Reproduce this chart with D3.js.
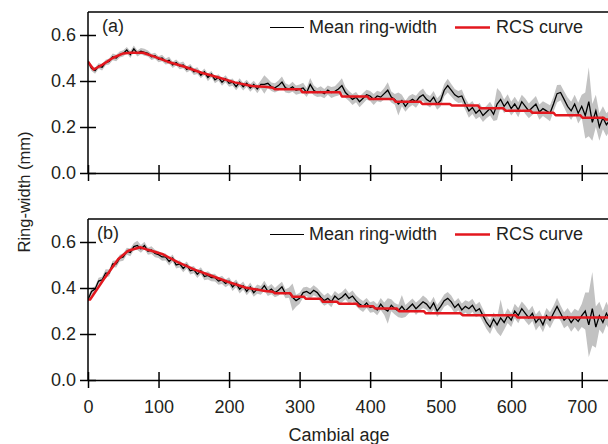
<!DOCTYPE html>
<html>
<head>
<meta charset="utf-8">
<script src="https://cdn.jsdelivr.net/npm/d3@7"></script>
<style>
  html, body { margin: 0; padding: 0; background: #fff; }
  svg { display: block; }
  text { font-family: "Liberation Sans", Arial, sans-serif; fill: #231f20; }
</style>
</head>
<body>
<svg id="chart" width="608" height="444"></svg>
<script>
// ---------------- DATA ----------------
const ageStep = 5; // one value every 5 years of cambial age, starting at 0
const xTicks = [0, 100, 200, 300, 400, 500, 600, 700];
const yTicks = [0.0, 0.2, 0.4, 0.6];
const legendLabels = ["Mean ring-width", "RCS curve"];
const panelLabels = ["(a)", "(b)"];

// Panel (a) mean ring-width (mm)
const meanA = [
  0.485,0.455,0.445,0.465,0.46,0.48,0.485,0.505,0.50,0.515,
  0.52,0.535,0.515,0.54,0.52,0.53,0.525,0.52,0.505,0.51,
  0.495,0.50,0.485,0.49,0.47,0.48,0.465,0.47,0.45,0.46,
  0.44,0.445,0.425,0.44,0.415,0.43,0.405,0.415,0.395,0.41,
  0.39,0.395,0.375,0.395,0.375,0.39,0.37,0.385,0.365,0.385,
  0.385,0.39,0.375,0.37,0.38,0.395,0.37,0.365,0.375,0.36,
  0.365,0.37,0.35,0.385,0.36,0.35,0.355,0.345,0.36,0.35,
  0.355,0.365,0.38,0.35,0.335,0.32,0.33,0.31,0.325,0.34,
  0.335,0.32,0.335,0.33,0.345,0.36,0.33,0.32,0.30,0.315,
  0.29,0.31,0.32,0.31,0.33,0.34,0.32,0.31,0.33,0.30,
  0.315,0.36,0.38,0.36,0.34,0.33,0.335,0.30,0.27,0.285,
  0.26,0.275,0.25,0.265,0.28,0.255,0.30,0.32,0.29,0.31,
  0.28,0.30,0.275,0.31,0.29,0.27,0.285,0.30,0.265,0.28,
  0.27,0.26,0.30,0.345,0.35,0.32,0.29,0.27,0.30,0.26,
  0.29,0.25,0.31,0.22,0.27,0.20,0.24,0.21,0.23
];
// Panel (a) half-width of the grey band (mm)
const spreadA = [
  0.012,0.012,0.013,0.012,0.014,0.012,0.013,0.015,0.014,0.013,
  0.014,0.013,0.015,0.014,0.013,0.014,0.015,0.013,0.014,0.013,
  0.013,0.014,0.013,0.015,0.014,0.013,0.014,0.015,0.013,0.014,
  0.014,0.015,0.013,0.014,0.016,0.014,0.015,0.014,0.016,0.015,
  0.015,0.016,0.015,0.017,0.016,0.015,0.017,0.016,0.018,0.017,
  0.04,0.02,0.018,0.02,0.022,0.025,0.02,0.018,0.022,0.02,
  0.02,0.022,0.02,0.028,0.022,0.02,0.022,0.02,0.02,0.024,
  0.022,0.028,0.032,0.024,0.022,0.024,0.022,0.024,0.023,0.022,
  0.022,0.024,0.023,0.022,0.025,0.035,0.024,0.023,0.05,0.025,
  0.024,0.025,0.024,0.026,0.025,0.027,0.024,0.025,0.026,0.025,
  0.026,0.027,0.03,0.027,0.025,0.026,0.028,0.026,0.03,0.028,
  0.026,0.03,0.028,0.027,0.03,0.029,0.07,0.032,0.03,0.032,
  0.03,0.032,0.033,0.03,0.034,0.032,0.033,0.035,0.033,0.032,
  0.033,0.035,0.033,0.038,0.034,0.035,0.038,0.04,0.04,0.045,
  0.05,0.1,0.15,0.08,0.07,0.06,0.05,0.05,0.045
];
// Panel (a) RCS curve breakpoints
const rcsAgesA = [0,8,20,35,50,60,78,95,113,137,161,184,208,232,251,262,265,301,304,357,
  360,396,399,433,436,471,474,513,516,553,556,589,592,627,630,660,663,698,701,731,734,750];
const rcsA = [0.484,0.45,0.47,0.50,0.52,0.523,0.523,0.505,0.484,0.462,0.436,0.416,0.394,0.378,0.375,0.371,0.364,0.364,0.351,0.351,
  0.333,0.333,0.322,0.322,0.31,0.31,0.30,0.30,0.293,0.293,0.281,0.281,0.271,0.271,0.262,0.262,0.251,0.251,0.240,0.240,0.233,0.233];

// Panel (b) mean ring-width (mm)
const meanB = [
  0.35,0.385,0.395,0.43,0.435,0.465,0.465,0.505,0.505,0.53,
  0.535,0.56,0.555,0.58,0.585,0.57,0.585,0.56,0.565,0.55,
  0.545,0.535,0.535,0.515,0.53,0.50,0.505,0.485,0.50,0.475,
  0.48,0.46,0.475,0.45,0.455,0.445,0.445,0.43,0.435,0.42,
  0.43,0.405,0.42,0.395,0.41,0.385,0.405,0.38,0.395,0.39,
  0.41,0.385,0.395,0.38,0.39,0.405,0.375,0.38,0.36,0.345,
  0.355,0.38,0.385,0.375,0.39,0.38,0.36,0.345,0.355,0.34,
  0.365,0.35,0.36,0.375,0.355,0.365,0.345,0.33,0.32,0.335,
  0.315,0.32,0.305,0.33,0.31,0.30,0.325,0.31,0.30,0.32,
  0.30,0.315,0.33,0.31,0.325,0.34,0.33,0.31,0.335,0.30,
  0.32,0.345,0.355,0.34,0.315,0.33,0.305,0.32,0.31,0.325,
  0.30,0.31,0.28,0.25,0.23,0.265,0.24,0.27,0.25,0.28,
  0.26,0.30,0.28,0.31,0.29,0.27,0.29,0.25,0.27,0.24,
  0.28,0.26,0.29,0.32,0.29,0.26,0.275,0.25,0.27,0.255,
  0.28,0.30,0.24,0.31,0.23,0.28,0.25,0.29,0.26
];
// Panel (b) half-width of the grey band (mm)
const spreadB = [
  0.013,0.014,0.013,0.015,0.014,0.016,0.015,0.014,0.016,0.015,
  0.016,0.015,0.017,0.016,0.02,0.017,0.016,0.015,0.017,0.016,
  0.015,0.016,0.015,0.017,0.016,0.015,0.016,0.017,0.015,0.016,
  0.016,0.017,0.015,0.016,0.018,0.016,0.017,0.016,0.018,0.017,
  0.017,0.018,0.017,0.019,0.018,0.017,0.019,0.018,0.02,0.019,
  0.022,0.02,0.022,0.02,0.024,0.022,0.02,0.022,0.06,0.026,
  0.024,0.022,0.02,0.023,0.022,0.02,0.023,0.022,0.024,0.024,
  0.022,0.024,0.023,0.024,0.022,0.024,0.023,0.024,0.024,0.022,
  0.023,0.024,0.024,0.026,0.027,0.055,0.026,0.025,0.027,0.05,
  0.026,0.025,0.024,0.027,0.025,0.027,0.025,0.026,0.027,0.026,
  0.027,0.027,0.028,0.027,0.026,0.027,0.028,0.027,0.03,0.028,
  0.027,0.03,0.029,0.028,0.03,0.03,0.032,0.08,0.032,0.032,
  0.03,0.032,0.033,0.031,0.034,0.032,0.033,0.035,0.033,0.032,
  0.033,0.035,0.033,0.038,0.034,0.035,0.038,0.04,0.04,0.045,
  0.05,0.08,0.14,0.16,0.09,0.06,0.05,0.05,0.045
];
// Panel (b) RCS curve breakpoints
const rcsAgesB = [0,3,24,43,57,74,85,105,128,152,176,199,223,251,262,265,287,290,306,309,
  330,333,353,356,381,384,404,407,438,441,476,479,501,528,531,606,609,750];
const rcsB = [0.35,0.35,0.445,0.526,0.562,0.577,0.566,0.548,0.511,0.479,0.452,0.426,0.402,0.387,0.384,0.377,0.377,0.362,0.362,0.353,
  0.353,0.340,0.340,0.332,0.332,0.321,0.321,0.311,0.311,0.299,0.299,0.29,0.29,0.29,0.282,0.282,0.272,0.272];

// ---------------- DRAWING ----------------
const svg = d3.select("#chart");
const left = 88, right = 617;
const x = d3.scaleLinear().domain([0, 750]).range([left, right]);

const panels = [
  { mean: meanA, spread: spreadA, rcsAges: rcsAgesA, rcs: rcsA, top: 12, bottom: 173, label: panelLabels[0], labelX: 102, showX: false },
  { mean: meanB, spread: spreadB, rcsAges: rcsAgesB, rcs: rcsB, top: 219, bottom: 380, label: panelLabels[1], labelX: 97, showX: true }
];

const ink = "#231f20";
const fontSize = 18;

panels.forEach((p, pi) => {
  const y = d3.scaleLinear().domain([0, 0.7]).range([p.bottom, p.top]);
  const g = svg.append("g");
  const clipId = "clip" + pi;
  svg.append("clipPath").attr("id", clipId)
    .append("rect").attr("x", left).attr("y", p.top).attr("width", right - left).attr("height", p.bottom - p.top);

  const rows = p.mean.map((m, i) => ({ age: i * ageStep, m: m, s: p.spread[i] }));
  const data = g.append("g").attr("clip-path", `url(#${clipId})`);

  // grey band
  data.append("path")
    .datum(rows)
    .attr("fill", "#c2c2c2")
    .attr("d", d3.area().x(d => x(d.age)).y0(d => y(d.m - d.s)).y1(d => y(d.m + d.s)));
  // mean line
  data.append("path")
    .datum(rows)
    .attr("fill", "none").attr("stroke", "#000").attr("stroke-width", 1.3)
    .attr("stroke-linejoin", "miter")
    .attr("d", d3.line().x(d => x(d.age)).y(d => y(d.m)));
  // RCS curve
  data.append("path")
    .datum(p.rcsAges.map((a, i) => [a, p.rcs[i]]))
    .attr("fill", "none").attr("stroke", "#e3171e").attr("stroke-width", 2.5)
    .attr("stroke-linejoin", "round")
    .attr("d", d3.line().x(d => x(d[0])).y(d => y(d[1])));

  // top border
  g.append("line").attr("x1", left).attr("x2", right).attr("y1", p.top).attr("y2", p.top)
    .attr("stroke", "#000").attr("stroke-width", 1.5);

  // y axis
  const yAxis = g.append("g").attr("transform", `translate(${left},0)`)
    .call(d3.axisLeft(y).tickValues(yTicks).tickFormat(d3.format(".1f")).tickSizeInner(8).tickSizeOuter(0).tickPadding(4));
  yAxis.select(".domain").attr("stroke", "#000").attr("stroke-width", 1.5).attr("d", `M0,${p.top}V${p.bottom}`);
  yAxis.selectAll(".tick line").attr("x1", -8).attr("x2", 8).attr("stroke", "#000").attr("stroke-width", 1.5);
  yAxis.selectAll(".tick text").attr("font-size", fontSize).attr("fill", ink)
    .style("font-family", '"Liberation Sans", Arial, sans-serif');

  // x axis
  const xAxis = g.append("g").attr("transform", `translate(0,${p.bottom})`)
    .call(d3.axisBottom(x).tickValues(xTicks).tickFormat(p.showX ? d3.format("d") : "").tickSizeInner(8).tickSizeOuter(0).tickPadding(12));
  xAxis.select(".domain").attr("stroke", "#000").attr("stroke-width", 1.5);
  xAxis.selectAll(".tick line").attr("y1", -8).attr("y2", 8).attr("stroke", "#000").attr("stroke-width", 1.5);
  xAxis.selectAll(".tick text").attr("font-size", fontSize).attr("fill", ink)
    .style("font-family", '"Liberation Sans", Arial, sans-serif');

  // panel label
  g.append("text").attr("x", p.labelX).attr("y", p.top + 20).attr("font-size", fontSize).text(p.label);

  // legend
  const ly = p.top + 15.5;
  g.append("line").attr("x1", 270).attr("x2", 304).attr("y1", ly).attr("y2", ly).attr("stroke", "#000").attr("stroke-width", 1.2);
  g.append("text").attr("x", 309).attr("y", ly + 5.5).attr("font-size", fontSize).text(legendLabels[0]);
  g.append("line").attr("x1", 455).attr("x2", 490).attr("y1", ly).attr("y2", ly).attr("stroke", "#e3171e").attr("stroke-width", 2.5);
  g.append("text").attr("x", 496).attr("y", ly + 5.5).attr("font-size", fontSize).text(legendLabels[1]);
});

// axis titles
svg.append("text").attr("transform", "translate(30,192) rotate(-90)")
  .attr("text-anchor", "middle").attr("font-size", 16.5).text("Ring-width (mm)");
svg.append("text").attr("x", 339).attr("y", 441)
  .attr("text-anchor", "middle").attr("font-size", fontSize).text("Cambial age");
</script>
</body>
</html>
